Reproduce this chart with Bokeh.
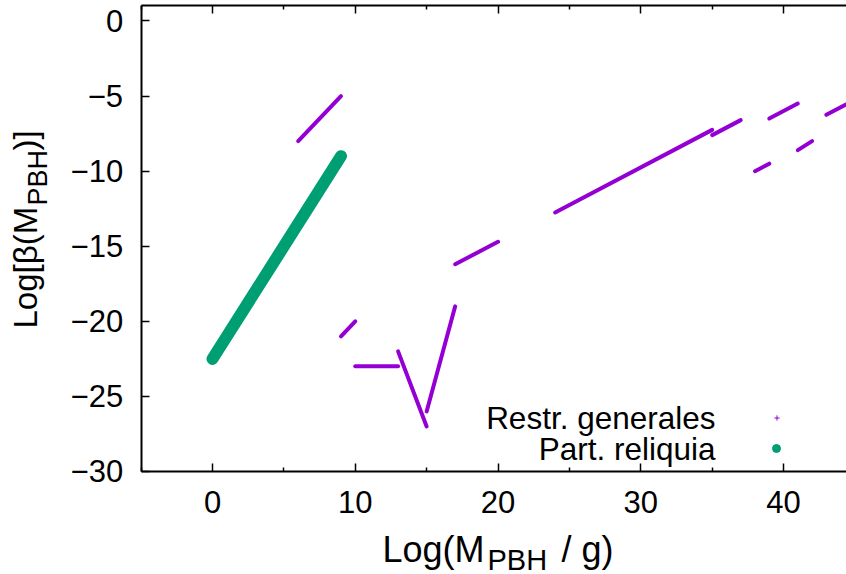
import math
from bokeh.plotting import figure
from bokeh.models import (FixedTicker, Label, Legend, LegendItem, LinearAxis,
                          Range1d, ColumnDataSource)
from bokeh.embed import file_html
from bokeh.resources import INLINE

PURPLE = "#9400D3"
GREEN = "#009E73"
FONT = "Liberation Sans"

# --- data -------------------------------------------------------------
# "Restr. generales": constraint segments, start (x0, y0) to end (x1, y1)
seg_x0 = [6, 9, 10, 13, 15, 17, 24, 35, 38, 39, 41, 43]
seg_y0 = [-8, -21, -23, -22, -26, -16.2, -12.75, -7.6, -10, -6.5, -8.6, -6.25]
seg_x1 = [9, 10, 13, 15, 17, 20, 35, 37, 39, 41, 42, 45]
seg_y1 = [-5, -20, -23, -27, -19, -14.7, -7.25, -6.6, -9.5, -5.5, -8, -5.25]

# "Part. reliquia"
rel_x = [0, 9]
rel_y = [-22.5, -9]

x_ticks = [0, 10, 20, 30, 40]
x_minor = [-5, 5, 15, 25, 35, 45]
y_ticks = [0, -5, -10, -15, -20, -25, -30]
y_tick_labels = ["0", "\u22125", "\u221210", "\u221215", "\u221220", "\u221225", "\u221230"]
x_tick_labels = ["0", "10", "20", "30", "40"]

legend_labels = ["Restr. generales", "Part. reliquia"]

# axes box (data limits of the drawn box)
X_MIN, X_MAX = -5, 44.41
Y_MIN, Y_MAX = -30, 1

# --- figure -----------------------------------------------------------
W, H = 846, 574
p = figure(width=W, height=H, output_backend="svg", toolbar_location=None,
           x_range=Range1d(-14.85, 44.41), y_range=Range1d(-36.86, 1.365),
           min_border_left=0, min_border_right=0, min_border_top=0,
           min_border_bottom=0)
p.outline_line_color = None
p.xgrid.visible = False
p.ygrid.visible = False
p.background_fill_color = "white"
p.border_fill_color = "white"

seg_src = ColumnDataSource(dict(x0=seg_x0, y0=seg_y0, x1=seg_x1, y1=seg_y1))
p.segment(x0="x0", y0="y0", x1="x1", y1="y1", source=seg_src,
          line_color=PURPLE, line_width=4, line_cap="round")
p.line(rel_x, rel_y, line_color=GREEN, line_width=12, line_cap="round")

# axes (fixed at the box edges)
def style_axis(ax, ticks, minor, labels, show_labels=True):
    ax.ticker = FixedTicker(ticks=ticks, minor_ticks=minor)
    ax.axis_line_width = 2
    ax.axis_line_color = "black"
    ax.major_tick_in = 8
    ax.major_tick_out = 0
    ax.minor_tick_in = 4
    ax.minor_tick_out = 0
    ax.major_tick_line_width = 1.5
    ax.minor_tick_line_width = 1.5
    ax.major_label_text_font = FONT
    if show_labels:
        ax.major_label_overrides = {t: l for t, l in zip(ticks, labels)}
        ax.major_label_text_color = "black"
        ax.major_label_text_font_size = "31px"
    else:
        ax.major_label_text_color = None
        ax.major_label_standoff = 0

xa = p.xaxis[0]
style_axis(xa, x_ticks, x_minor, x_tick_labels)
xa.fixed_location = Y_MIN
xa.bounds = (X_MIN, X_MAX)
xa.major_label_standoff = 20

ya = p.yaxis[0]
style_axis(ya, y_ticks, [], y_tick_labels)
ya.fixed_location = X_MIN
ya.bounds = (Y_MIN, Y_MAX)
ya.major_label_standoff = 18

top_axis = LinearAxis(fixed_location=Y_MAX, bounds=(X_MIN, X_MAX))
style_axis(top_axis, x_ticks, x_minor, x_tick_labels, show_labels=False)
p.add_layout(top_axis, "above")

# texts, placed in canvas pixels (frame == canvas): x from left, y up from bottom
def lab(text, sx, sy, size, angle=0, align="left", baseline="alphabetic"):
    p.add_layout(Label(x=sx, y=H - sy, x_units="screen", y_units="screen", text=text,
                       text_font=FONT, text_font_size=size, text_color="black",
                       angle=angle, text_align=align, text_baseline=baseline))

# x title: Log(M_PBH / g)
lab("Log(M", 382, 549, "36px")
lab("PBH", 487, 559, "29px")
lab("/ g)", 561, 549, "36px")

# y title: Log[beta(M_PBH)]  (reads bottom to top)
lab("Log[\u03b2(M", 25, 328, "33px", angle=math.pi / 2)
lab("PBH", 37, 205, "27px", angle=math.pi / 2)
lab(")]", 25, 150, "33px", angle=math.pi / 2)

# legend texts (right aligned), keys on the right
lab(legend_labels[0], 715, 417, "31.5px", align="right", baseline="middle")
lab(legend_labels[1], 715, 448, "31.5px", align="right", baseline="middle")

nan = float("nan")
r_plus = p.scatter(x=[nan], y=[nan], marker="cross", size=5, line_color=PURPLE, line_width=1)
r_dot = p.scatter(x=[nan], y=[nan], marker="circle", size=8, fill_color=GREEN, line_color=GREEN)

def key_legend(r, cx, cy, box):
    leg = Legend(items=[LegendItem(label=" ", renderers=[r])],
                 location=(cx - box / 2, H - cy - box / 2), glyph_width=box, glyph_height=box,
                 padding=0, margin=0, spacing=0, label_standoff=0, label_width=0,
                 label_height=box, label_text_font_size="10px", label_text_color=None,
                 border_line_alpha=0, background_fill_alpha=0)
    p.add_layout(leg, "center")

key_legend(r_plus, 776, 417, 13)
key_legend(r_dot, 776, 448, 20)

open("out.html", "w").write(file_html(p, INLINE))
